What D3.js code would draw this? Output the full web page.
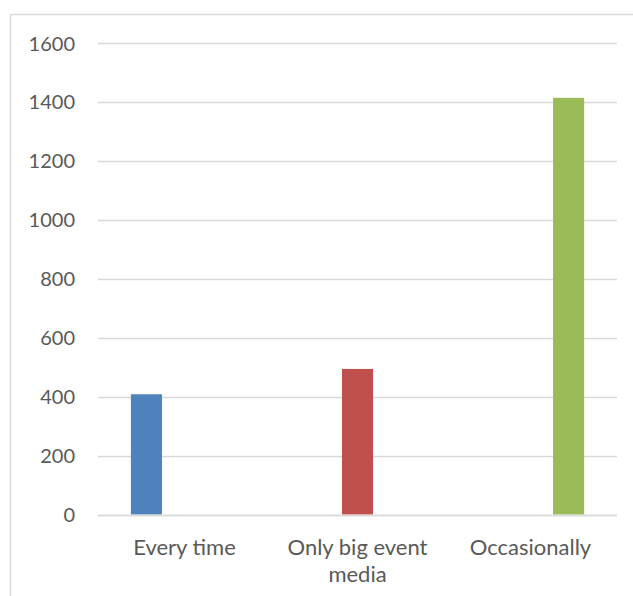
<!DOCTYPE html>
<html>
<head>
<meta charset="utf-8">
<script src="https://cdn.jsdelivr.net/npm/d3@7"></script>
<style>
  html, body { margin: 0; padding: 0; background: #fff; }
  svg { display: block; }
  text { font-family: Lato, "Open Sans", sans-serif; fill: #595959; }
</style>
</head>
<body>
<svg id="chart" width="633" height="596"></svg>
<script>
// Survey responses per category; each series carries one non-zero value
const categories = ["Every time", "Only big event media", "Occasionally"];
const seriesNames = ["Every time", "Only big event media", "Occasionally"];
const seriesColors = ["#4f81bd", "#c0504d", "#9bbb59"];
const seriesValues = [
  [408, 0, 0],
  [0, 494, 0],
  [0, 0, 1414]
];
const yTicks = [0, 200, 400, 600, 800, 1000, 1200, 1400, 1600];
const categoryLines = [["Every time"], ["Only big event", "media"], ["Occasionally"]];

const svg = d3.select("#chart");
const W = 633, H = 596;

// chart frame (extends past the right and bottom edges)
svg.append("rect")
  .attr("x", 10.5).attr("y", 14.5)
  .attr("width", W + 20).attr("height", H + 20)
  .attr("fill", "none").attr("stroke", "#d9d9d9").attr("stroke-width", 1.5);

const plot = { left: 98, right: 617, top: 43, bottom: 514.5 };

const y = d3.scaleLinear().domain([0, 1600]).range([plot.bottom, plot.top]);
const x0 = d3.scaleBand().domain(categories).range([plot.left, plot.right]).padding(0);
const bw = x0.bandwidth();
const x1 = d3.scaleBand().domain(seriesNames)
  .range([bw * 0.19, bw * 0.81]).paddingInner(0.184).paddingOuter(0);

// gridlines
svg.append("g").selectAll("line").data(yTicks).join("line")
  .attr("x1", plot.left).attr("x2", plot.right)
  .attr("y1", d => Math.round(y(d)) + 0.5).attr("y2", d => Math.round(y(d)) + 0.5)
  .attr("stroke", "#d9d9d9").attr("stroke-width", 1.6);

// y axis labels
const yAxis = d3.axisLeft(y).tickValues(yTicks).tickFormat(d3.format("d")).tickSize(0).tickPadding(0);
const gy = svg.append("g").attr("transform", "translate(75,0)").call(yAxis);
gy.select(".domain").remove();
gy.selectAll("text")
  .style("font-family", "Lato, 'Open Sans', sans-serif")
  .style("font-size", "20px").attr("fill", "#595959").attr("dy", "0.35em");

// bars
const groups = svg.append("g").selectAll("g").data(categories).join("g")
  .attr("transform", d => `translate(${x0(d)},0)`);
groups.selectAll("rect")
  .data((c, i) => seriesNames.map((s, j) => ({ s, j, v: seriesValues[j][i] })).filter(d => d.v > 0))
  .join("rect")
  .attr("x", d => x1(d.s))
  .attr("width", x1.bandwidth())
  .attr("y", d => y(d.v))
  .attr("height", d => y(0) - y(d.v))
  .attr("fill", d => seriesColors[d.j]);

// category axis line
svg.append("line")
  .attr("x1", plot.left).attr("x2", plot.right)
  .attr("y1", Math.round(y(0)) + 0.5).attr("y2", Math.round(y(0)) + 0.5)
  .attr("stroke", "#d9d9d9").attr("stroke-width", 1.6);

// category labels
const labels = svg.append("g").selectAll("text").data(categories).join("text")
  .attr("x", d => x0(d) + bw / 2)
  .attr("y", 555)
  .attr("text-anchor", "middle")
  .style("font-size", "22px");
labels.selectAll("tspan")
  .data((d, i) => categoryLines[i])
  .join("tspan")
  .attr("x", function () { return d3.select(this.parentNode).attr("x"); })
  .attr("dy", (d, i) => i === 0 ? 0 : 27)
  .text(d => d);
</script>
</body>
</html>
